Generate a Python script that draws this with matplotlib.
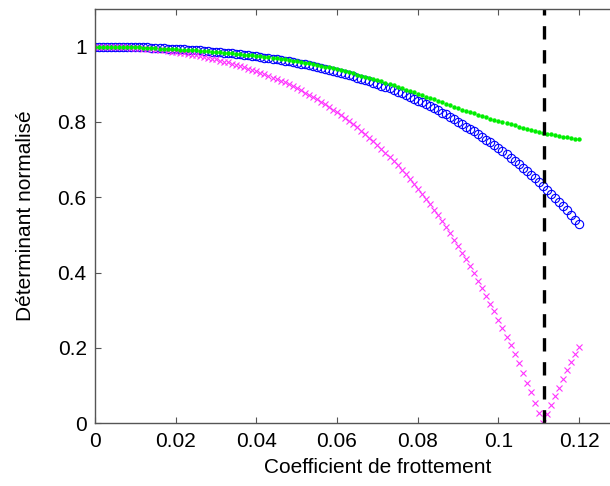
import numpy as np
import matplotlib
matplotlib.use('Agg')
import matplotlib.pyplot as plt

plt.rcParams['font.family'] = ['Liberation Sans', 'DejaVu Sans']

# friction coefficient grid, step 0.001
mu = np.arange(121) / 1000.0

det_circles = [
    1.000, 1.000, 1.000, 1.000, 1.000, 1.000, 0.999, 0.999, 0.999, 0.999,
    0.999, 0.998, 0.998, 0.998, 0.997, 0.997, 0.996, 0.996, 0.995, 0.995,
    0.994, 0.994, 0.993, 0.992, 0.991, 0.991, 0.990, 0.989, 0.988, 0.987,
    0.986, 0.985, 0.984, 0.983, 0.982, 0.981, 0.980, 0.978, 0.977, 0.976,
    0.974, 0.973, 0.971, 0.970, 0.968, 0.966, 0.965, 0.963, 0.961, 0.959,
    0.957, 0.955, 0.953, 0.950, 0.948, 0.946, 0.943, 0.941, 0.938, 0.936,
    0.933, 0.930, 0.927, 0.924, 0.921, 0.918, 0.914, 0.911, 0.908, 0.904,
    0.900, 0.896, 0.893, 0.889, 0.884, 0.880, 0.876, 0.871, 0.867, 0.862,
    0.857, 0.852, 0.847, 0.842, 0.837, 0.831, 0.825, 0.820, 0.814, 0.808,
    0.801, 0.795, 0.788, 0.782, 0.775, 0.768, 0.761, 0.753, 0.746, 0.738,
    0.730, 0.722, 0.714, 0.705, 0.697, 0.688, 0.679, 0.669, 0.660, 0.650,
    0.640, 0.630, 0.620, 0.609, 0.599, 0.588, 0.576, 0.565, 0.553, 0.541, 0.529,
]

det_cross = [
    1.000, 1.000, 1.000, 1.000, 0.999, 0.999, 0.999, 0.998, 0.998, 0.997,
    0.996, 0.996, 0.995, 0.994, 0.993, 0.992, 0.991, 0.990, 0.988, 0.987,
    0.985, 0.984, 0.982, 0.980, 0.979, 0.977, 0.975, 0.973, 0.970, 0.968,
    0.966, 0.963, 0.960, 0.958, 0.955, 0.952, 0.948, 0.945, 0.942, 0.938,
    0.935, 0.931, 0.927, 0.923, 0.918, 0.914, 0.909, 0.905, 0.900, 0.895,
    0.889, 0.884, 0.878, 0.872, 0.866, 0.860, 0.854, 0.847, 0.840, 0.833,
    0.826, 0.818, 0.810, 0.802, 0.794, 0.786, 0.777, 0.768, 0.758, 0.749,
    0.739, 0.729, 0.718, 0.707, 0.696, 0.685, 0.673, 0.661, 0.649, 0.636,
    0.623, 0.609, 0.595, 0.581, 0.567, 0.552, 0.536, 0.521, 0.504, 0.488,
    0.471, 0.453, 0.435, 0.417, 0.398, 0.379, 0.359, 0.339, 0.318, 0.297,
    0.275, 0.253, 0.230, 0.207, 0.183, 0.159, 0.133, 0.108, 0.082, 0.055,
    0.028, 0.001, 0.024, 0.048, 0.072, 0.095, 0.118, 0.141, 0.163, 0.183, 0.203,
]

det_dots = [
    1.000, 1.000, 1.000, 1.000, 0.999, 0.999, 0.999, 0.999, 0.999, 0.998,
    0.998, 0.998, 0.997, 0.997, 0.996, 0.996, 0.995, 0.995, 0.994, 0.994,
    0.993, 0.992, 0.992, 0.991, 0.990, 0.990, 0.989, 0.988, 0.988, 0.987,
    0.986, 0.985, 0.984, 0.983, 0.982, 0.981, 0.980, 0.979, 0.978, 0.977,
    0.976, 0.975, 0.973, 0.972, 0.970, 0.969, 0.967, 0.966, 0.964, 0.963,
    0.961, 0.959, 0.957, 0.956, 0.954, 0.952, 0.949, 0.947, 0.945, 0.943,
    0.940, 0.937, 0.935, 0.932, 0.929, 0.926, 0.923, 0.920, 0.917, 0.914,
    0.911, 0.908, 0.904, 0.901, 0.897, 0.893, 0.890, 0.886, 0.882, 0.879,
    0.875, 0.871, 0.867, 0.864, 0.860, 0.856, 0.852, 0.848, 0.845, 0.841,
    0.837, 0.833, 0.830, 0.826, 0.823, 0.819, 0.816, 0.813, 0.809, 0.806,
    0.803, 0.800, 0.797, 0.794, 0.791, 0.788, 0.785, 0.782, 0.780, 0.777,
    0.774, 0.772, 0.769, 0.767, 0.765, 0.763, 0.761, 0.759, 0.757, 0.756, 0.754,
]

mu_critical = 0.1112
xticks = [0, 0.02, 0.04, 0.06, 0.08, 0.1, 0.12]
xticklabels = ['0', '0.02', '0.04', '0.06', '0.08', '0.1', '0.12']
yticks = [0, 0.2, 0.4, 0.6, 0.8, 1]
yticklabels = ['0', '0.2', '0.4', '0.6', '0.8', '1']

fig = plt.figure(figsize=(6.1, 4.86), dpi=100)
# axes run past the right edge of the figure (cropped MATLAB window)
ax = fig.add_axes([0.1557, 0.129, 0.926, 0.8525])

ax.plot(mu, det_circles, 'o', color='#0000ff', markersize=6,
        markerfacecolor='none', markeredgewidth=0.8)
ax.plot(mu, det_cross, 'x', color='#ff33ff', markersize=5, markeredgewidth=0.8)
ax.plot(mu, det_dots, 'o', color='#00ee00', markersize=3.2, markeredgewidth=0)
ax.axvline(mu_critical, color='k', linestyle=(0, (4, 3.2)), linewidth=2.4)

ax.set_xlim(0, 0.14)
ax.set_ylim(0, 1.1)
ax.set_xticks(xticks)
ax.set_xticklabels(xticklabels)
ax.set_yticks(yticks)
ax.set_yticklabels(yticklabels)

for s in ax.spines.values():
    s.set_color('#555555')
    s.set_linewidth(1.0)
ax.tick_params(direction='in', length=4, width=0.8, color='#555555',
               top=True, right=True, labelsize=15, pad=6)

ax.set_xlabel('Coefficient de frottement', fontsize=15, labelpad=5)
ax.set_ylabel('Déterminant normalisé', fontsize=15, labelpad=16)

fig.savefig('out.png', dpi=100)
